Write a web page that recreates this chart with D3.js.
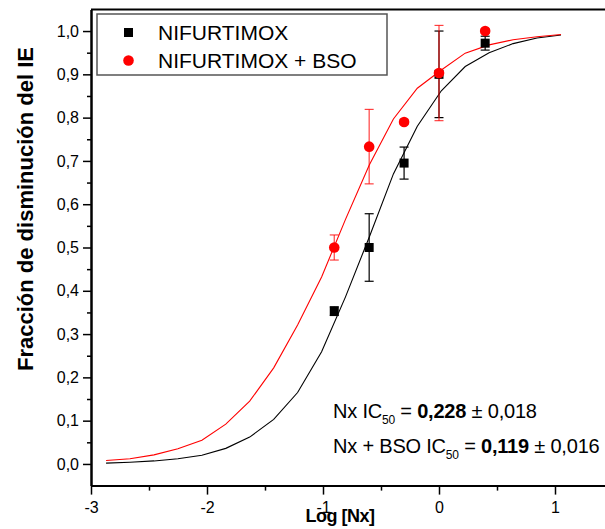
<!DOCTYPE html>
<html>
<head>
<meta charset="utf-8">
<script src="https://cdn.jsdelivr.net/npm/d3@7"></script>
<style>
  body { margin: 0; background: #fff; }
  text { font-family: "Liberation Sans", Arial, sans-serif; fill: #000; }
</style>
</head>
<body>
<div class="chart"></div>
<script>
var curveLog = [-2.870, -2.664, -2.457, -2.251, -2.044, -1.838, -1.632, -1.425, -1.219, -1.012,
                -0.806, -0.600, -0.393, -0.187, 0.020, 0.226, 0.432, 0.639, 0.845, 1.052];
var nxCurve = [0.002, 0.004, 0.007, 0.012, 0.020, 0.036, 0.062, 0.103, 0.165, 0.259,
               0.386, 0.525, 0.670, 0.780, 0.862, 0.918, 0.950, 0.971, 0.984, 0.991];
var bsoCurve = [0.008, 0.012, 0.021, 0.035, 0.055, 0.092, 0.145, 0.222, 0.321, 0.432,
                0.565, 0.691, 0.797, 0.868, 0.910, 0.949, 0.968, 0.980, 0.987, 0.992];

// Measured points
var doseLog = [-0.903, -0.602, -0.301, 0, 0.398];
var nxMean = [0.353, 0.500, 0.695, 0.900, 0.972];
var nxErr = [0.010, 0.078, 0.037, 0.100, 0.016];
var bsoMean = [0.500, 0.733, 0.790, 0.903, 1.000];
var bsoErr = [0.029, 0.086, 0.006, 0.110, 0.005];

// Ticks
var xTicks = [-3, -2, -1, 0, 1];
var xTickLabels = ["-3", "-2", "-1", "0", "1"];
var xMinor = [-2.5, -1.5, -0.5, 0.5];
var yTicks = [0, 0.1, 0.2, 0.3, 0.4, 0.5, 0.6, 0.7, 0.8, 0.9, 1.0];
var yTickLabels = ["0,0", "0,1", "0,2", "0,3", "0,4", "0,5", "0,6", "0,7", "0,8", "0,9", "1,0"];
var yMinor = [0.05, 0.15, 0.25, 0.35, 0.45, 0.55, 0.65, 0.75, 0.85, 0.95];

var legendNames = ["NIFURTIMOX", "NIFURTIMOX + BSO"];

var svgWidth = 605;
var svgHeight = 529;

var svg = d3.select(".chart")
  .append("svg")
  .attr("width", svgWidth)
  .attr("height", svgHeight);

// scales
var x = d3.scaleLinear().domain([-3, 1.45]).range([91, 91 + 116 * 4.45]);
var y = d3.scaleLinear().domain([-0.05, 1.05]).range([485.6, 9.4]);

// curves
var line = d3.line()
  .x(function(d) { return x(d[0]); })
  .y(function(d) { return y(d[1]); });

svg.append("path")
  .attr("d", line(d3.zip(curveLog, nxCurve)))
  .attr("fill", "none")
  .attr("stroke", "#000")
  .attr("stroke-width", 1.1);

svg.append("path")
  .attr("d", line(d3.zip(curveLog, bsoCurve)))
  .attr("fill", "none")
  .attr("stroke", "#ff0000")
  .attr("stroke-width", 1.1);

// error bars
function errorBars(means, errs, color, opacity) {
  var g = svg.append("g")
    .attr("stroke", color)
    .attr("stroke-opacity", opacity)
    .attr("stroke-width", 1.2);
  doseLog.forEach(function(d, i) {
    var cx = x(d);
    var top = y(means[i] + errs[i]);
    var bot = y(means[i] - errs[i]);
    g.append("line").attr("x1", cx).attr("x2", cx).attr("y1", top).attr("y2", bot);
    g.append("line").attr("x1", cx - 4.5).attr("x2", cx + 4.5).attr("y1", top).attr("y2", top);
    g.append("line").attr("x1", cx - 4.5).attr("x2", cx + 4.5).attr("y1", bot).attr("y2", bot);
  });
}
errorBars(nxMean, nxErr, "#000", 1);
errorBars(bsoMean, bsoErr, "#ff0000", 0.75);

// markers
svg.append("g").selectAll("rect")
  .data(doseLog)
  .enter().append("rect")
  .attr("x", function(d) { return x(d) - 4.5; })
  .attr("y", function(d, i) { return y(nxMean[i]) - 4.5; })
  .attr("width", 9)
  .attr("height", 9)
  .attr("fill", "#000");

svg.append("g").selectAll("circle")
  .data(doseLog)
  .enter().append("circle")
  .attr("cx", function(d) { return x(d); })
  .attr("cy", function(d, i) { return y(bsoMean[i]); })
  .attr("r", 5.3)
  .attr("fill", "#ff0000");

// axes
var bottomAxis = d3.axisBottom(x).tickValues(xTicks)
  .tickFormat(function(d, i) { return xTickLabels[i]; })
  .tickSize(9).tickSizeOuter(0).tickPadding(7);
var bottomMinor = d3.axisBottom(x).tickValues(xMinor).tickFormat("").tickSize(5).tickSizeOuter(0);
var leftAxis = d3.axisLeft(y).tickValues(yTicks)
  .tickFormat(function(d, i) { return yTickLabels[i]; })
  .tickSize(8).tickSizeOuter(0).tickPadding(4);
var leftMinor = d3.axisLeft(y).tickValues(yMinor).tickFormat("").tickSize(4).tickSizeOuter(0);

[bottomAxis, bottomMinor].forEach(function(a) {
  svg.append("g")
    .attr("class", "axis")
    .attr("transform", "translate(0, " + y(-0.05) + ")")
    .call(a);
});
[leftAxis, leftMinor].forEach(function(a) {
  svg.append("g")
    .attr("class", "axis")
    .attr("transform", "translate(" + x(-3) + ", 0)")
    .call(a);
});

svg.selectAll(".axis path").attr("stroke", "#000").attr("stroke-width", 2);
svg.selectAll(".axis line").attr("stroke", "#000").attr("stroke-width", 1.5);
svg.selectAll(".axis text")
  .style("font-family", "'Liberation Sans', Arial, sans-serif")
  .style("font-size", "16px")
  .attr("fill", "#000");

// top frame line
svg.append("line")
  .attr("x1", x(-3)).attr("x2", svgWidth)
  .attr("y1", y(1.05)).attr("y2", y(1.05))
  .attr("stroke", "#000")
  .attr("stroke-width", 2);

// axis titles
svg.append("text")
  .attr("transform", "translate(33, 209) rotate(-90)")
  .attr("text-anchor", "middle")
  .style("font-size", "22px")
  .style("font-weight", "bold")
  .text("Fracción de disminución del IE");

svg.append("text")
  .attr("x", 340)
  .attr("y", 522)
  .attr("text-anchor", "middle")
  .style("font-size", "18px")
  .style("font-weight", "bold")
  .style("letter-spacing", "-0.5px")
  .text("Log [Nx]");

// legend
var legend = svg.append("g");
legend.append("rect")
  .attr("x", 97).attr("y", 14)
  .attr("width", 290).attr("height", 61)
  .attr("fill", "#fff")
  .attr("stroke", "#555")
  .attr("stroke-width", 1.5);
legend.append("rect")
  .attr("x", 124).attr("y", 28)
  .attr("width", 9).attr("height", 9)
  .attr("fill", "#000");
legend.append("circle")
  .attr("cx", 128.5).attr("cy", 60.5)
  .attr("r", 5.3)
  .attr("fill", "#ff0000");
legend.selectAll("text.leg")
  .data(legendNames)
  .enter().append("text")
  .attr("class", "leg")
  .attr("x", 158)
  .attr("y", function(d, i) { return 40 + i * 28; })
  .style("font-size", "21px")
  .text(function(d) { return d; });

// IC50 annotations
var notes = [
  { label: "Nx IC", value: "0,228", err: "0,018", y: 418 },
  { label: "Nx + BSO IC", value: "0,119", err: "0,016", y: 453 }
];
notes.forEach(function(n) {
  var t = svg.append("text")
    .attr("x", 333)
    .attr("y", n.y)
    .style("font-size", "20px")
    .style("letter-spacing", "-0.2px");
  t.append("tspan").text(n.label);
  t.append("tspan").attr("dy", 6).style("font-size", "12px").text("50");
  t.append("tspan").attr("dy", -6).text(" = ");
  t.append("tspan").style("font-weight", "bold").text(n.value);
  t.append("tspan").text(" \u00b1 " + n.err);
});
</script>
</body>
</html>
